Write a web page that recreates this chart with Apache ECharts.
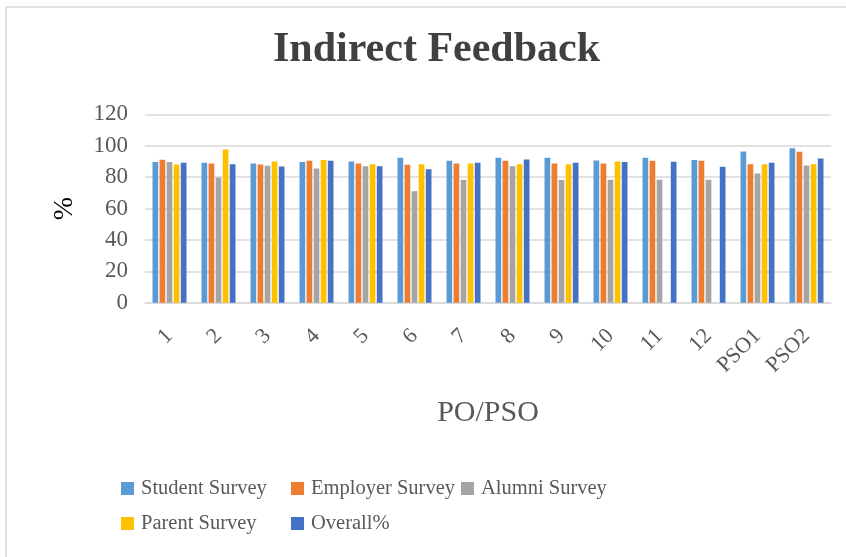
<!DOCTYPE html>
<html>
<head>
<meta charset="utf-8">
<script src="https://cdn.jsdelivr.net/npm/echarts@6/dist/echarts.min.js"></script>
<style>
html,body{margin:0;padding:0;background:#fff;}
#chart{width:846px;height:557px;}
</style>
</head>
<body>
<div id="chart"></div>
<script>
const categories = ['1','2','3','4','5','6','7','8','9','10','11','12','PSO1','PSO2'];
const studentSurvey  = [89.6, 89.2, 88.7, 89.6, 90.0, 92.3, 90.4, 92.3, 92.3, 90.6, 92.3, 90.9, 96.4, 98.5];
const employerSurvey = [91.1, 88.7, 88.1, 90.4, 88.7, 87.9, 88.7, 90.4, 88.7, 88.7, 90.4, 90.4, 88.3, 96.2];
const alumniSurvey   = [89.6, 79.8, 87.2, 85.5, 87.0, 71.1, 78.3, 87.0, 78.3, 78.3, 78.3, 78.3, 82.3, 87.4];
const parentSurvey   = [88.1, 97.6, 90.0, 90.9, 88.3, 88.3, 88.7, 88.3, 88.3, 90.0, null, null, 88.3, 88.3];
const overall        = [89.2, 88.3, 86.8, 90.4, 87.0, 85.1, 89.2, 91.3, 89.2, 89.6, 89.8, 86.6, 89.2, 91.9];
const yTicks = [0, 20, 40, 60, 80, 100, 120];

const seriesNames = ['Student Survey','Employer Survey','Alumni Survey','Parent Survey','Overall%'];
const seriesData = [studentSurvey, employerSurvey, alumniSurvey, parentSurvey, overall];
const colors = ['#5B9BD5','#ED7D31','#A5A5A5','#FFC000','#4472C4'];

const FONT = '"Liberation Serif", "DejaVu Serif", serif';
const chart = echarts.init(document.getElementById('chart'), null, {renderer:'canvas'});

const legendPos = [[121,478],[291,478],[461,478],[121,513],[291,513]];
const legends = seriesNames.map((n,i)=>({
  data:[n], left:legendPos[i][0], top:legendPos[i][1], orient:'horizontal',
  itemWidth:13, itemHeight:13, itemGap:0, icon:'rect', padding:0,
  textStyle:{fontFamily:FONT, fontSize:20.5, color:'#595959', padding:[0,0,0,2]},
  selectedMode:false
}));

chart.setOption({
  animation:false,
  backgroundColor:'#fff',
  color:colors,
  title:{
    text:'Indirect Feedback', left:268, top:24,
    textStyle:{fontFamily:FONT, fontSize:42, fontWeight:'bold', color:'#404040'}
  },
  legend:legends,
  grid:{left:145, right:15, top:114.4, bottom:254.3, containLabel:false},
  xAxis:{
    type:'category', data:categories,
    axisLine:{lineStyle:{color:'#d9d9d9', width:1.5}},
    axisTick:{show:false},
    axisLabel:{rotate:45, margin:30, fontFamily:FONT, fontSize:22, color:'#595959', interval:0},
    name:'PO/PSO', nameLocation:'middle', nameGap:95,
    nameTextStyle:{fontFamily:FONT, fontSize:30, color:'#595959'}
  },
  yAxis:{
    type:'value', min:yTicks[0], max:yTicks[yTicks.length-1], interval:20,
    axisLine:{show:false}, axisTick:{show:false},
    splitLine:{lineStyle:{color:'#d9d9d9', width:1.5}},
    axisLabel:{margin:17, fontFamily:FONT, fontSize:23, color:'#595959'},
    name:'%', nameLocation:'middle', nameRotate:90, nameGap:66,
    nameTextStyle:{fontFamily:FONT, fontSize:28, color:'#000'}
  },
  graphic:[
    {type:'line', shape:{x1:6, y1:7, x2:846, y2:7}, style:{stroke:'#d9d9d9', lineWidth:1.5}, silent:true},
    {type:'line', shape:{x1:6, y1:7, x2:6, y2:557}, style:{stroke:'#d9d9d9', lineWidth:1.5}, silent:true}
  ],
  series:seriesNames.map((n,i)=>({
    name:n, type:'bar', data:seriesData[i], barWidth:5.7, barGap:'24%',
    itemStyle:{color:colors[i]}
  }))
});
</script>
</body>
</html>
